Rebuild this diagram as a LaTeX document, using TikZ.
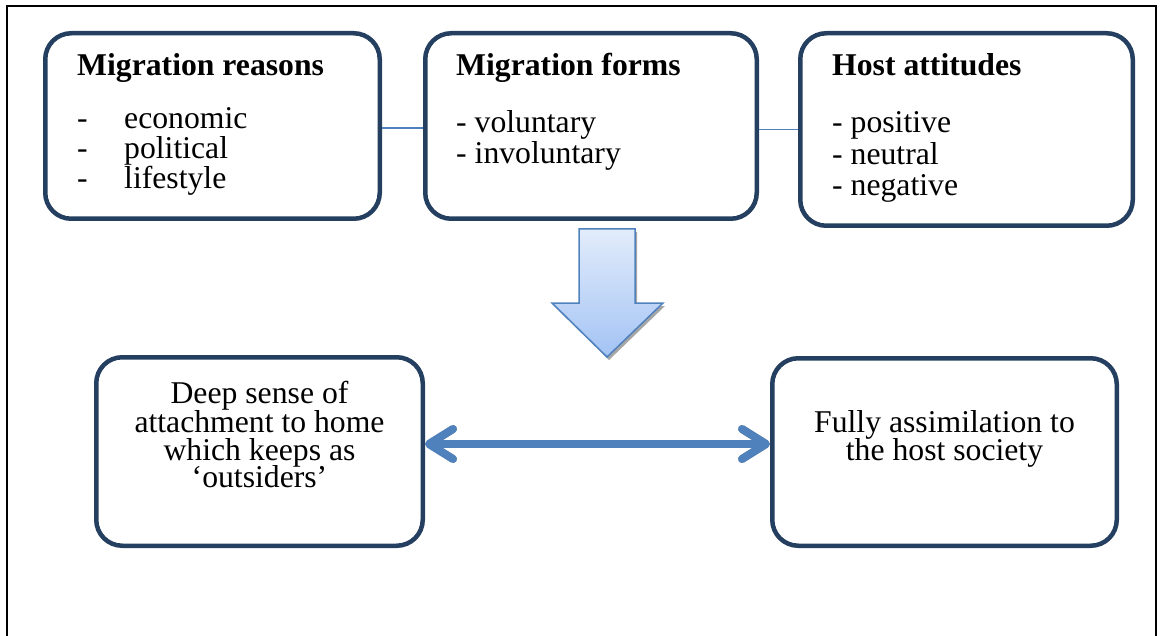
\documentclass[tikz,border=0pt]{standalone}
\usepackage{fontspec}
\setmainfont{Liberation Serif}
\usetikzlibrary{arrows.meta}
\definecolor{boxline}{HTML}{243F60}
\definecolor{accent}{HTML}{4F81BD}
\definecolor{arrowtop}{HTML}{E2ECFB}
\definecolor{arrowbot}{HTML}{A3C3F4}
\definecolor{shadowgray}{HTML}{A6A6A6}
\begin{document}
\begin{tikzpicture}[x=1pt,y=-1pt,
  card/.style={draw=boxline, line width=4.5pt, rounded corners=26pt, fill=white, inner sep=0pt},
  txt/.style={anchor=base west, inner sep=0pt, text height=20pt, text depth=6pt, font=\fontsize{31.7}{32}\selectfont},
  ctxt/.style={anchor=base, inner sep=0pt, text height=20pt, text depth=6pt, font=\fontsize{31.7}{32}\selectfont},
  head/.style={anchor=base west, inner sep=0pt, font=\fontsize{31.7}{32}\selectfont\bfseries},
  link/.style={draw=accent, line width=1.6pt},
  twoway/.style={line width=8pt, >={Straight Barb[length=24pt, width=30pt, line cap=round, line join=round]}, <->}]
\useasboundingbox (0,0) rectangle (1161,636);

% page frame, open at the bottom
\draw[line width=2pt] (7,640) -- (7,6) -- (1156,6) -- (1156,640);

% upper row of boxes
\node[card, minimum width=334.5pt, minimum height=185.5pt] (reasons) at (212.5,126) {};
\node[card, minimum width=331.5pt, minimum height=185.5pt] (forms) at (591,126) {};
\node[card, minimum width=332.5pt, minimum height=192.5pt] (hosts) at (966.5,129.5) {};

% lower row of boxes
\node[card, minimum width=326.5pt, minimum height=188.5pt] (attach) at (259.5,451.5) {};
\node[card, minimum width=344.5pt, minimum height=187.5pt] (assim) at (944.5,452) {};

% links between the upper boxes
\draw[link] ([yshift=-2pt]reasons.east) -- ([yshift=-2pt]forms.west);
\draw[link] (hosts.west -| forms.east) -- (hosts.west);

% texts of the upper boxes
\node[head] (t1) at (77,76) {Migration reasons};
\node[txt] (t1a) at (77,129) {-};
\node[txt] (t1b) at (124,129) {economic};
\node[txt] (t1c) at (77,159) {-};
\node[txt] (t1d) at (124,159) {political};
\node[txt] (t1e) at (77,189) {-};
\node[txt] (t1f) at (124,189) {lifestyle};

\node[head] (t2) at (456,76) {Migration forms};
\node[txt] (t2a) at (456,133) {- voluntary};
\node[txt] (t2b) at (456,164) {- involuntary};

\node[head] (t3) at (832,76) {Host attitudes};
\node[txt] (t3a) at (832,133) {- positive};
\node[txt] (t3b) at (832,165) {- neutral};
\node[txt] (t3c) at (832,196) {- negative};

% texts of the lower boxes
\node[ctxt] (t4a) at (259.5,403) {Deep sense of};
\node[ctxt] (t4b) at (259.5,432) {attachment to home};
\node[ctxt] (t4c) at (259.5,460) {which keeps as};
\node[ctxt] (t4d) at (259.5,487) {‘outsiders’};

\node[ctxt] (t5a) at (944.5,432) {Fully assimilation to};
\node[ctxt] (t5b) at (944.5,460) {the host society};

% block arrow pointing down, with its shadow
\fill[shadowgray] (581,232) -- (637,232) -- (637,306) -- (665,306) -- (609,360) -- (554,306) -- (581,306) -- cycle;
\shade[top color=arrowtop, bottom color=arrowbot, draw=accent, line width=1.5pt]
  (579,229) -- (635,229) -- (635,303) -- (663,303) -- (607,357) -- (552,303) -- (579,303) -- cycle;

% two-headed arrow between the lower boxes, with its shadow
\coordinate (mid) at (600,444);
\draw[twoway, shadowgray, shift={(2,3)}] (attach.east |- mid) -- (assim.west |- mid);
\draw[twoway, accent] (attach.east |- mid) -- (assim.west |- mid);
\end{tikzpicture}
\end{document}
